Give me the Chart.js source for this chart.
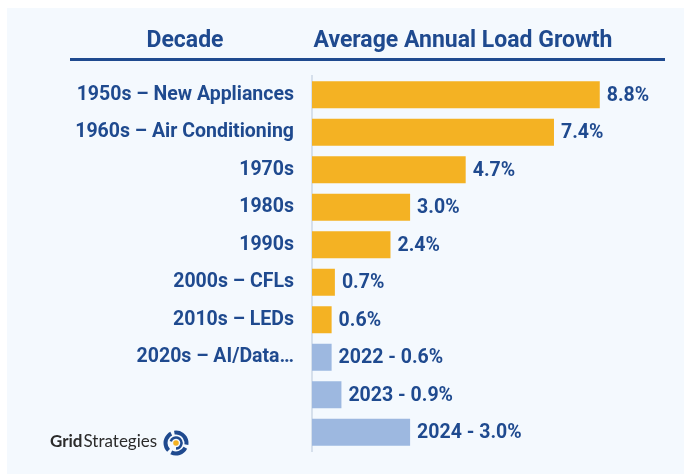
<!DOCTYPE html>
<html>
<head>
<meta charset="utf-8">
<script src="https://cdn.jsdelivr.net/npm/chart.js@4"></script>
<style>
  html, body { margin: 0; padding: 0; background: #ffffff; }
  #wrap { width: 684px; height: 474px; }
</style>
</head>
<body>
<div id="wrap"><canvas id="loadChart" width="684" height="474"></canvas></div>
<script>
// decades down the left, values in percent
const decades = ['1950s – New Appliances', '1960s – Air Conditioning', '1970s', '1980s', '1990s',
                 '2000s – CFLs', '2010s – LEDs', '2020s – AI/Data…', '', ''];
const growth = [8.8, 7.4, 4.7, 3.0, 2.4, 0.7, 0.6, 0.6, 0.9, 3.0];
const valueLabels = ['8.8%', '7.4%', '4.7%', '3.0%', '2.4%', '0.7%', '0.6%',
                     '2022 - 0.6%', '2023 - 0.9%', '2024 - 3.0%'];
const headers = ['Decade', 'Average Annual Load Growth'];

const navy = '#1f4a8f';
const gold = '#f4b223';
const lightBlue = '#9db8e0';
const barColors = growth.map((v, i) => i < 7 ? gold : lightBlue);

// panel, header row, logo
const decorPlugin = {
    id: 'decor',
    beforeDraw(chart) {
        const ctx = chart.ctx;
        ctx.save();
        ctx.fillStyle = '#ffffff';
        ctx.fillRect(0, 0, chart.width, chart.height);
        ctx.fillStyle = '#f4f9fe';
        ctx.fillRect(7, 8, chart.width - 7, chart.height - 8);
        ctx.restore();
    },
    afterDraw(chart) {
        const ctx = chart.ctx;
        ctx.save();
        ctx.fillStyle = navy;
        ctx.font = 'bold 23px Roboto';
        ctx.textBaseline = 'middle';
        ctx.textAlign = 'center';
        ctx.fillText(headers[0], 185, 41);
        ctx.fillText(headers[1], 463, 41);
        ctx.fillRect(70, 58, 595, 3);

        // logo
        ctx.textAlign = 'left';
        ctx.fillStyle = '#2b2b2b';
        ctx.font = 'bold 17px Lato';
        ctx.fillText('Grid', 50, 442);
        const w = ctx.measureText('Grid').width;
        ctx.font = '17px Lato';
        ctx.fillText('Strategies', 50 + w + 1, 442);

        const cx = 176, cy = 443;
        ctx.strokeStyle = navy;
        ctx.lineWidth = 4;
        [[0.75, 1.35], [1.45, 2.05], [2.15, 2.65]].forEach(([a, b]) => {
            ctx.beginPath();
            ctx.arc(cx, cy, 10.5, Math.PI * a, Math.PI * b);
            ctx.stroke();
        });
        ctx.lineWidth = 2.5;
        ctx.beginPath();
        ctx.arc(cx, cy, 5.5, Math.PI * 1.1, Math.PI * 2.5);
        ctx.stroke();
        ctx.fillStyle = gold;
        ctx.beginPath();
        ctx.arc(cx, cy, 2.8, 0, Math.PI * 2);
        ctx.fill();
        ctx.restore();
    }
};

// value text at the end of every bar
const valuePlugin = {
    id: 'values',
    afterDatasetsDraw(chart) {
        const ctx = chart.ctx;
        const meta = chart.getDatasetMeta(0);
        ctx.save();
        ctx.fillStyle = navy;
        ctx.font = 'bold 19.5px Roboto';
        ctx.textAlign = 'left';
        ctx.textBaseline = 'middle';
        meta.data.forEach((bar, i) => {
            ctx.fillText(valueLabels[i], bar.x + 7, bar.y + 1);
        });
        ctx.restore();
    }
};

new Chart(document.getElementById('loadChart'), {
    type: 'bar',
    data: {
        labels: decades,
        datasets: [{
            data: growth,
            backgroundColor: barColors,
            borderWidth: 0,
            categoryPercentage: 0.72,
            barPercentage: 1
        }]
    },
    options: {
        indexAxis: 'y',
        responsive: false,
        animation: false,
        layout: { padding: { top: 76, bottom: 23, left: 0, right: 45 } },
        plugins: { legend: { display: false }, tooltip: { enabled: false } },
        scales: {
            x: {
                min: 0,
                max: 10,
                display: false
            },
            y: {
                afterFit(scale) {
                    scale.width = 312;
                    // let layout padding alone decide the plot height
                    scale.paddingTop = 0;
                    scale.paddingBottom = 0;
                },
                border: { display: true, color: '#d6e0ec', width: 2 },
                grid: { display: false, drawTicks: false },
                ticks: {
                    color: navy,
                    padding: 18,
                    font: { family: 'Roboto', size: 19.5, weight: 'bold' }
                }
            }
        }
    },
    plugins: [decorPlugin, valuePlugin]
});
</script>
</body>
</html>
